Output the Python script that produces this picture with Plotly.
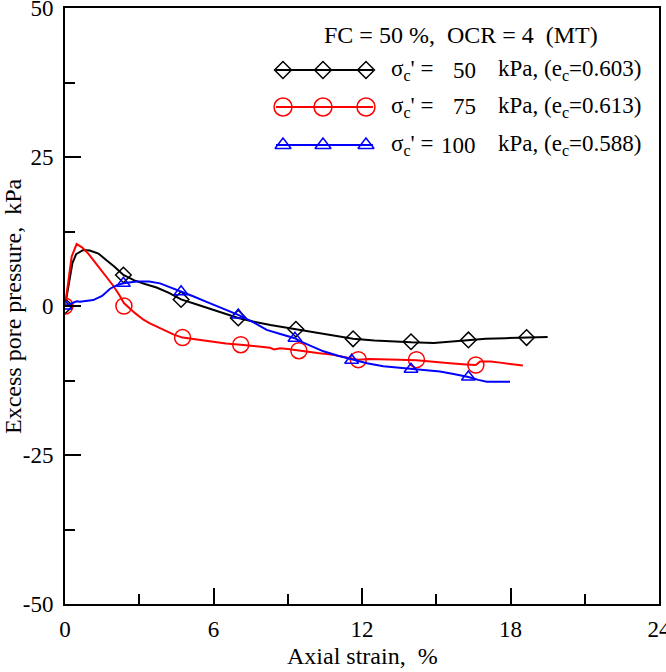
import plotly.graph_objects as go

# ---------------- data ----------------
strain_50 = [0, 0.15, 0.3, 0.45, 0.74, 1.0, 1.35, 1.7, 2.0, 2.36, 2.8, 3.23, 3.7, 4.2, 4.69,
             5.3, 5.9, 6.5, 7.0, 7.6, 8.3, 9.33, 10.0, 10.8, 11.64, 12.5, 13.3, 13.98,
             14.9, 15.6, 16.3, 17.0, 17.8, 18.65, 19.5]
pu_50 = [0, 4.0, 7.2, 8.7, 9.4, 9.3, 8.8, 7.6, 6.6, 5.2, 4.3, 3.7, 3.1, 2.2, 1.1,
         0.3, -0.5, -1.3, -2.0, -2.6, -3.2, -3.9, -4.4, -5.0, -5.5, -5.8, -6.0, -6.1,
         -6.2, -6.0, -5.7, -5.5, -5.4, -5.3, -5.2]
mk_strain_50 = [0, 2.36, 4.69, 7.0, 9.33, 11.64, 13.98, 16.3, 18.65]
mk_pu_50 = [0, 5.2, 1.1, -2.0, -3.9, -5.5, -6.0, -5.7, -5.3]

strain_75 = [0, 0.12, 0.27, 0.47, 0.7, 0.94, 1.2, 1.48, 1.75, 1.95, 2.2, 2.38, 2.83, 3.17,
             3.43, 3.96, 4.4, 4.75, 5.45, 5.86, 6.5, 7.1, 7.7, 8.28, 8.45, 8.69, 9.0, 9.47,
             10.2, 10.83, 11.38, 11.84, 12.3, 12.73, 13.5, 14.2, 14.9, 15.56, 16.2, 16.6,
             16.77, 17.2, 17.58, 18.0, 18.5]
pu_75 = [0, 4.0, 8.3, 10.4, 9.8, 8.8, 7.4, 6.0, 4.5, 3.4, 1.8, 0.5, -1.2, -2.3,
         -2.9, -4.0, -4.8, -5.3, -5.7, -6.0, -6.3, -6.5, -6.7, -7.0, -7.3, -7.1, -7.2, -7.5,
         -7.9, -8.2, -8.7, -9.0, -8.9, -8.9, -9.0, -9.1, -9.3, -9.6, -9.8, -9.9,
         -9.3, -9.3, -9.5, -9.7, -10.0]
mk_strain_75 = [0, 2.38, 4.75, 7.1, 9.45, 11.85, 14.2, 16.6]
mk_pu_75 = [0, 0, -5.3, -6.5, -7.5, -9.0, -9.0, -9.9]

strain_100 = [0, 0.2, 0.47, 0.6, 1.14, 1.5, 1.82, 2.1, 2.36, 2.9, 3.4, 3.84, 4.3, 4.69,
              5.2, 5.72, 6.3, 7.0, 7.6, 8.15, 8.7, 9.29, 9.49, 10.0, 10.44, 11.0, 11.58,
              12.2, 12.86, 13.4, 13.98, 14.6, 15.15, 15.7, 16.3, 16.7, 17.04, 17.5, 17.98]
pu_100 = [0, 0.3, 0.8, 0.7, 1.0, 1.7, 2.9, 3.5, 3.8, 4.1, 4.1, 3.8, 3.1, 2.4,
          1.6, 0.7, -0.3, -1.5, -2.7, -4.0, -4.7, -5.4, -5.9, -6.8, -7.6, -8.3, -8.9,
          -9.6, -10.1, -10.3, -10.5, -10.7, -11.0, -11.4, -11.9, -12.4, -12.7, -12.7, -12.7]
mk_strain_100 = [0, 2.36, 4.69, 7.0, 9.29, 11.58, 13.98, 16.3]
mk_pu_100 = [0, 3.8, 2.4, -1.5, -5.4, -9.1, -10.6, -11.9]

series_stress = ["50", "75", "100"]
series_ec = ["0.603", "0.613", "0.588"]
legend_title = "FC = 50 %,\u00a0\u00a0OCR = 4\u00a0\u00a0(MT)"

x_ticks = [0, 6, 12, 18, 24]
y_ticks = [-50, -25, 0, 25, 50]

# ---------------- styling ----------------
FONT = "Liberation Serif, Times New Roman, serif"
FS_TICK = 23
FS_TITLE = 24
FS_LEG = 23
colors = ["#000000", "#ff0000", "#0000ff"]
symbols = ["diamond-open", "circle-open", "triangle-up-open"]
msizes = [12, 16, 12]
leg_msizes = [13, 18, 14]

W, H = 666, 672
L, R, T, B = 65, 7, 8, 68
PW, PH = W - L - R, H - T - B


def px_x(px):
    return (px - L) / PW


def px_y(py):
    return (H - B - py) / PH


fig = go.Figure()

curves = [(strain_50, pu_50, mk_strain_50, mk_pu_50),
          (strain_75, pu_75, mk_strain_75, mk_pu_75),
          (strain_100, pu_100, mk_strain_100, mk_pu_100)]

for i, (sx, sy, mx, my) in enumerate(curves):
    fig.add_trace(go.Scatter(x=sx, y=sy, mode="lines",
                             line=dict(color=colors[i], width=2),
                             showlegend=False, hoverinfo="skip"))
    fig.add_trace(go.Scatter(x=mx, y=my, mode="markers",
                             marker=dict(symbol=symbols[i], size=msizes[i],
                                         color=colors[i],
                                         line=dict(color=colors[i], width=1.5)),
                             showlegend=False))

# ---------------- custom legend (overlay axes in paper units) ----------------
leg_rows_py = [70, 107, 145]
leg_line_px = [276, 373]
leg_mk_px = [283, 323, 366]
for i, py in enumerate(leg_rows_py):
    yy = px_y(py)
    fig.add_trace(go.Scatter(x=[px_x(p) for p in leg_line_px], y=[yy, yy],
                             mode="lines", line=dict(color=colors[i], width=2),
                             xaxis="x2", yaxis="y2", showlegend=False, hoverinfo="skip"))
    fig.add_trace(go.Scatter(x=[px_x(p) for p in leg_mk_px], y=[yy] * 3,
                             mode="markers",
                             marker=dict(symbol=symbols[i], size=leg_msizes[i],
                                         color=colors[i],
                                         line=dict(color=colors[i], width=1.5)),
                             xaxis="x2", yaxis="y2", showlegend=False, hoverinfo="skip"))

annotations = [
    dict(text=legend_title, x=px_x(461), y=px_y(35), xref="paper", yref="paper",
         xanchor="center", yanchor="middle", showarrow=False,
         font=dict(family=FONT, size=FS_TITLE, color="black")),
    dict(text="Axial strain,\u00a0\u00a0%", x=0.5, y=px_y(656), xref="paper", yref="paper",
         xanchor="center", yanchor="middle", showarrow=False,
         font=dict(family=FONT, size=FS_TITLE, color="black")),
    dict(text="Excess pore pressure,\u00a0\u00a0kPa", x=px_x(13), y=0.5, xref="paper",
         yref="paper", xanchor="center", yanchor="middle", textangle=-90,
         showarrow=False, font=dict(family=FONT, size=FS_TITLE, color="black")),
]
for i, py in enumerate(leg_rows_py):
    yy = px_y(py)
    annotations.append(dict(text="σ<sub>c</sub>' =", x=px_x(389), y=yy, xref="paper",
                            yref="paper", xanchor="left", yanchor="middle", showarrow=False,
                            font=dict(family=FONT, size=FS_LEG, color="black")))
    annotations.append(dict(text=series_stress[i], x=px_x(478), y=yy, xref="paper",
                            yref="paper", xanchor="right", yanchor="middle", showarrow=False,
                            font=dict(family=FONT, size=FS_LEG, color="black")))
    annotations.append(dict(text="kPa, (e<sub>c</sub>=" + series_ec[i] + ")", x=px_x(496),
                            y=yy, xref="paper", yref="paper", xanchor="left",
                            yanchor="middle", showarrow=False,
                            font=dict(family=FONT, size=FS_LEG, color="black")))

axis_common = dict(
    showgrid=False, zeroline=False, showline=True, linecolor="black", linewidth=2,
    mirror=True, ticks="inside", ticklen=16, tickwidth=2, tickcolor="black",
    tickfont=dict(family=FONT, size=FS_TICK, color="black"),
    ticklabeloverflow="allow", automargin=False,
)

fig.update_layout(
    width=W, height=H,
    margin=dict(l=L, r=R, t=T, b=B, autoexpand=False),
    paper_bgcolor="white", plot_bgcolor="white",
    showlegend=False,
    annotations=annotations,
    xaxis=dict(range=[0, 24], tickvals=x_ticks, ticktext=[str(v) for v in x_ticks],
               minor=dict(dtick=3, tick0=0, ticks="inside", ticklen=10, tickwidth=2,
                          tickcolor="black"),
               ticklabelstandoff=3, **axis_common),
    yaxis=dict(range=[-50, 50], tickvals=y_ticks, ticktext=[str(v) for v in y_ticks],
               minor=dict(dtick=12.5, tick0=0, ticks="inside", ticklen=10, tickwidth=2,
                          tickcolor="black"),
               ticklabelstandoff=5, **axis_common),
    xaxis2=dict(range=[0, 1], overlaying="x", visible=False, fixedrange=True),
    yaxis2=dict(range=[0, 1], overlaying="y", visible=False, fixedrange=True),
)

fig.write_html("out.html")
